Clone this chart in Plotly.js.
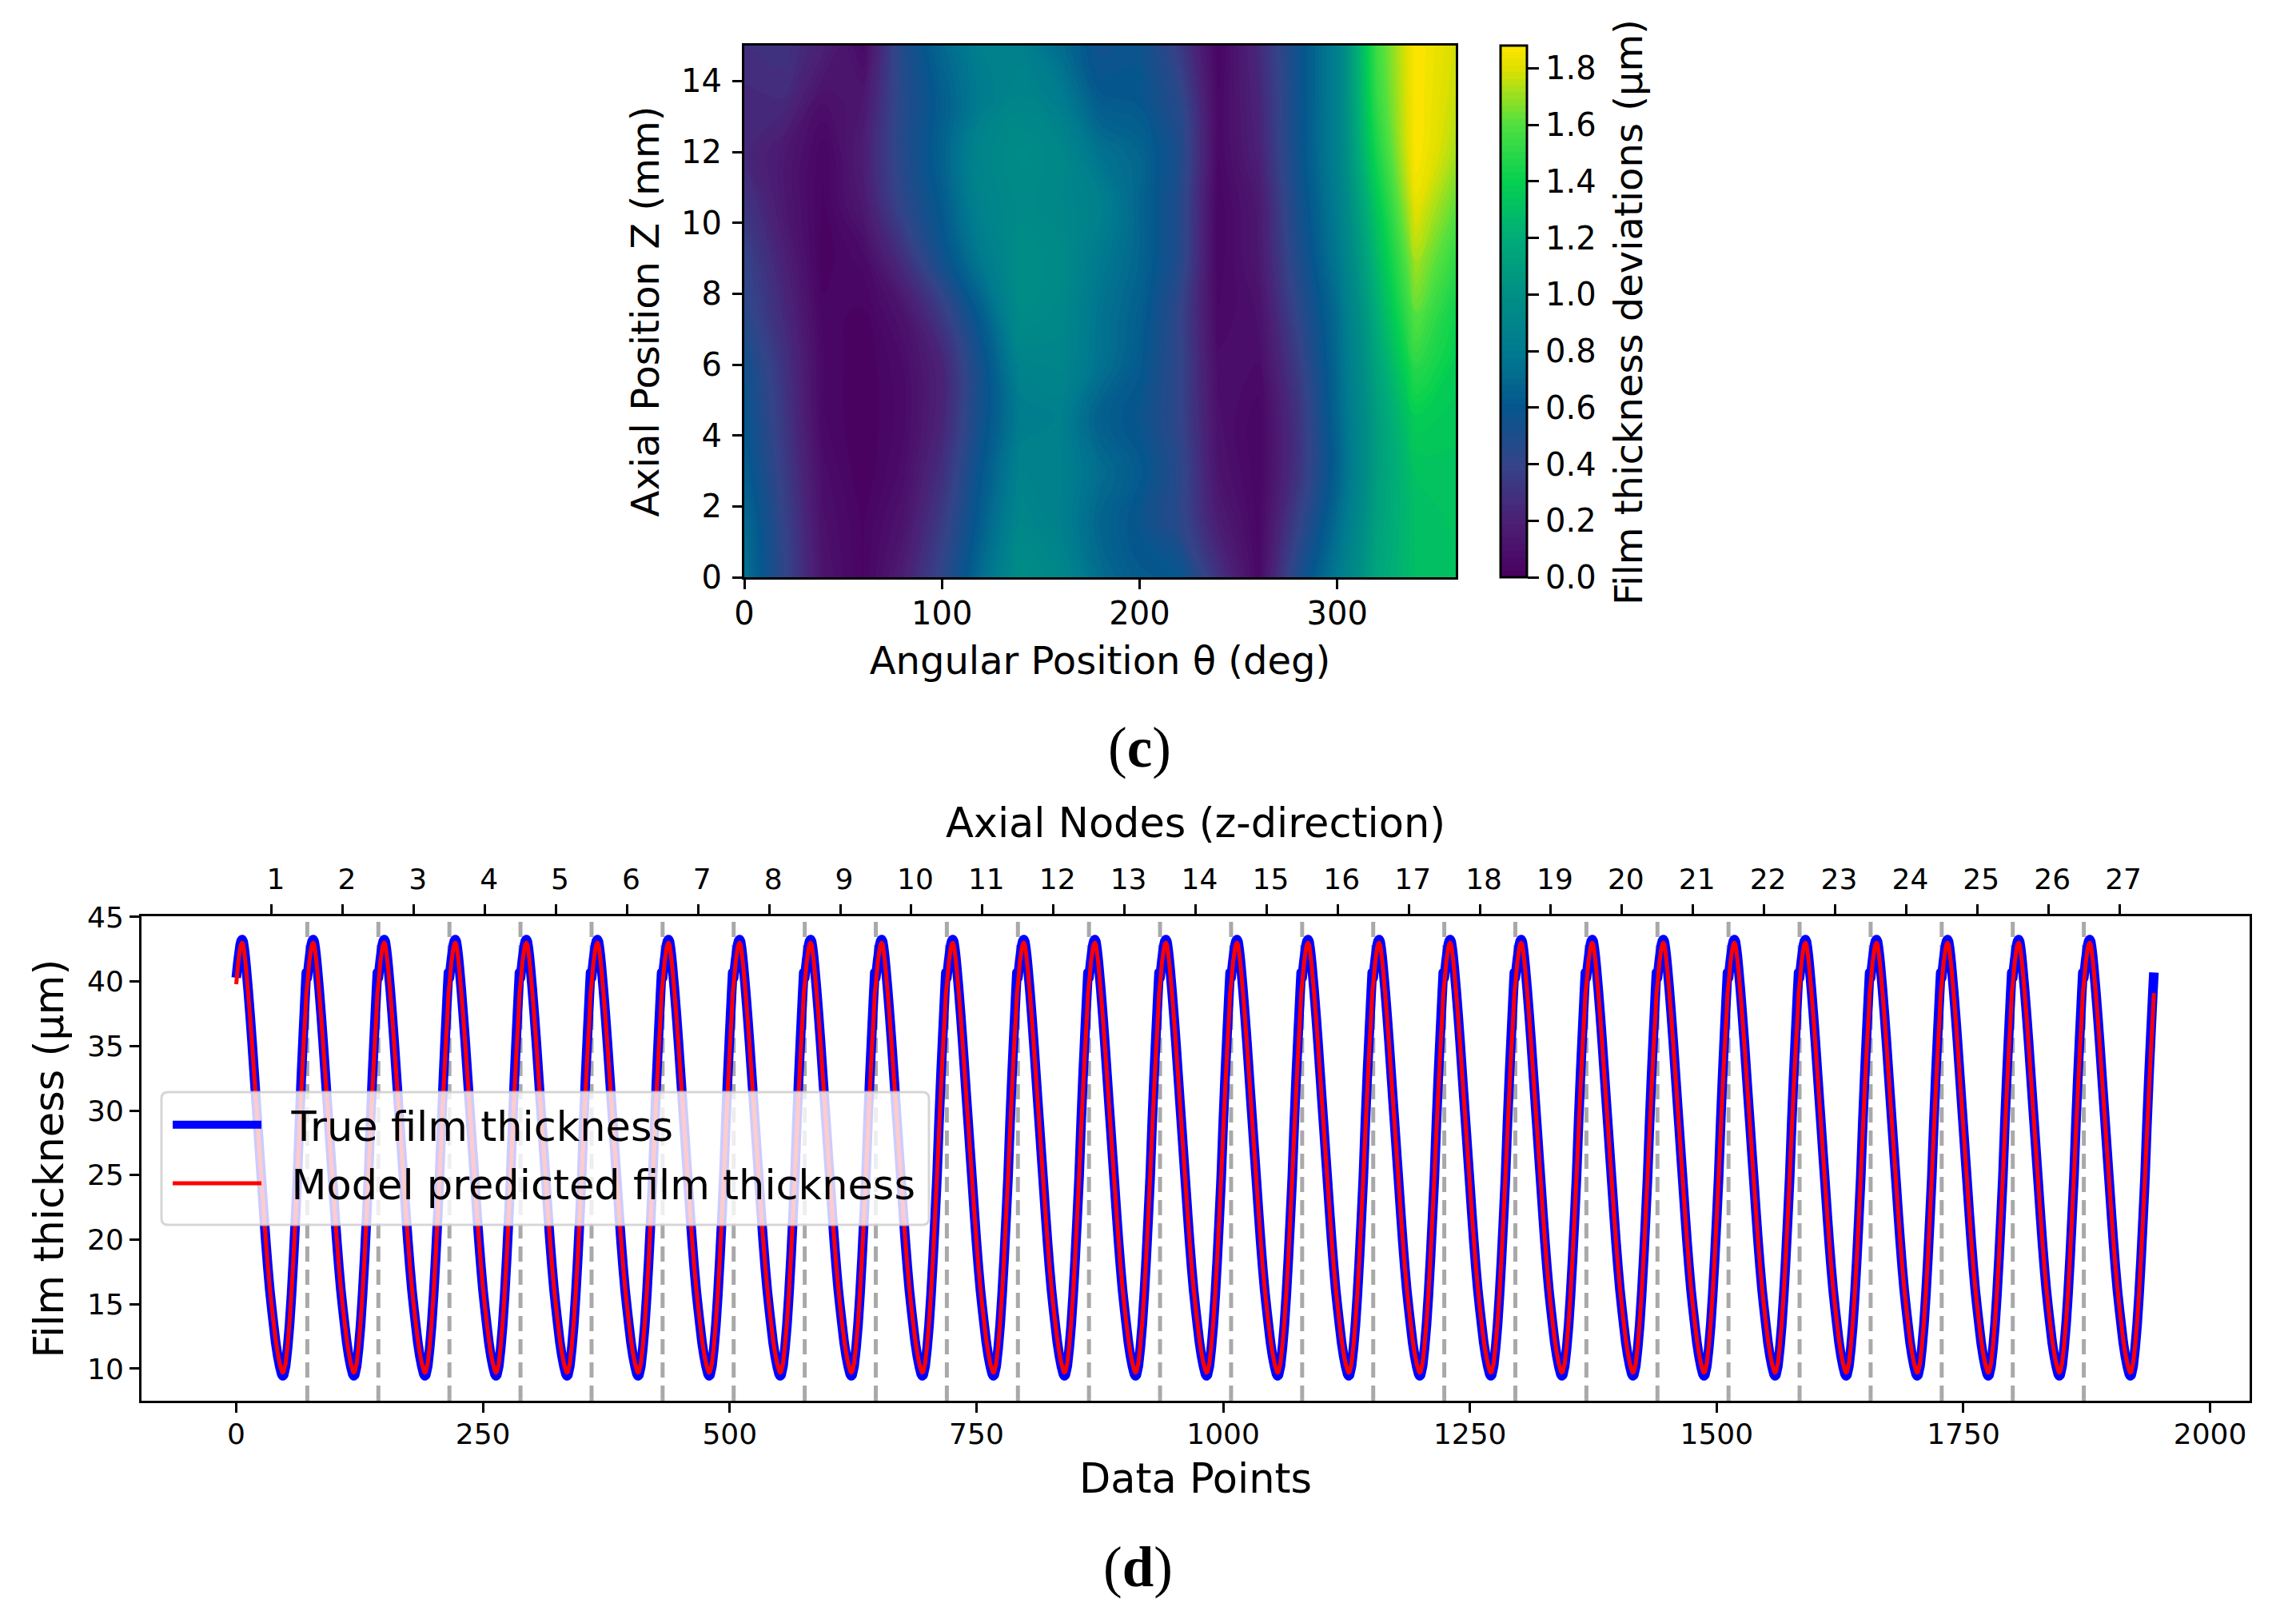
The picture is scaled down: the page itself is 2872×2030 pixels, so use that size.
<!DOCTYPE html>
<html lang="en">

<head>
    <meta charset="UTF-8">
    <title>Film thickness</title>
    <script src="https://cdn.plot.ly/plotly-3.0.1.min.js"></script>
    <style>
        body {
            margin: 0;
            background: white;
        }

        #plot {
            width: 2872px;
            height: 2030px;
        }

        /* plotly's default miter limit flattens the peaks */
        .scatterlayer .js-line {
            stroke-linejoin: round !important;
        }
    </style>
</head>

<body>
    <div id="plot"></div>

    <script>
        // panel (c): film thickness deviations
        const thetaDeg = [0, 20, 40, 60, 80, 100, 120, 140, 160, 180, 200, 220, 240, 260, 280, 300, 320, 340, 360];
        const axialZ = [0, 1.5, 3, 4.5, 6, 7.5, 9, 10.5, 12, 13.5, 15];
        const deviations = [
            [.75, .42, .12, .02, .18, .42, .72, .98, .92, .72, .62, .60, .30, .05, .50, .80, 1.15, 1.30, 1.32],
            [.72, .40, .10, .02, .12, .35, .65, .92, .85, .68, .58, .45, .18, .04, .38, .72, 1.12, 1.30, 1.32],
            [.65, .36, .08, .00, .08, .28, .60, .87, .85, .72, .62, .45, .12, .03, .30, .66, 1.10, 1.32, 1.33],
            [.60, .33, .05, .00, .06, .22, .55, .82, .85, .65, .58, .42, .10, .03, .30, .68, 1.10, 1.38, 1.35],
            [.55, .30, .05, .00, .07, .22, .55, .88, .90, .75, .62, .42, .08, .07, .35, .70, 1.14, 1.50, 1.38],
            [.45, .25, .03, .02, .12, .35, .65, .97, .93, .76, .65, .42, .05, .10, .42, .72, 1.20, 1.62, 1.42],
            [.40, .20, .01, .06, .28, .55, .80, .98, .95, .80, .68, .48, .03, .14, .48, .78, 1.27, 1.72, 1.52],
            [.32, .15, .02, .15, .42, .62, .88, .95, .92, .85, .68, .48, .03, .15, .52, .82, 1.35, 1.82, 1.62],
            [.25, .15, .03, .18, .46, .66, .90, .97, .92, .75, .68, .50, .05, .20, .55, .85, 1.45, 1.88, 1.72],
            [.25, .26, .10, .14, .46, .64, .82, .90, .82, .62, .60, .45, .05, .22, .55, .85, 1.52, 1.88, 1.76],
            [.28, .30, .20, .06, .48, .70, .85, .85, .72, .55, .58, .35, .03, .25, .55, .85, 1.55, 1.88, 1.78]
        ];
        const deviationScale = [
            [0, '#4a0060'], [0.106, '#4b2075'], [0.213, '#334488'], [0.319, '#06568e'],
            [0.426, '#007b8f'], [0.532, '#008f85'], [0.638, '#00ac78'], [0.745, '#05d050'],
            [0.851, '#50e040'], [0.957, '#e0e000'], [1, '#ffe500']
        ];
        const colorbarTicks = [0, 0.2, 0.4, 0.6, 0.8, 1.0, 1.2, 1.4, 1.6, 1.8];

        // panel (d): one node's worth of data points, the trace repeats it node after node
        const cycleOffsets = [0, 2, 4, 5, 6, 7, 8, 9, 10, 12, 14, 16, 18, 20, 22, 24, 26, 28, 30, 32, 34, 36, 38, 40, 42, 44, 46, 47, 48,
            50, 52, 54, 56, 58, 60, 62, 64, 66, 68, 70, 71];
        const trueCycle = [40.3, 41.7, 42.85, 43.15, 43.25, 43.1, 42.6, 41.95, 41.15,
            39.4, 37.45, 35.35, 33.1, 30.85, 28.65, 26.4, 24.2, 21.95, 19.8, 17.85, 16.1, 14.65, 13.3, 12.0, 11.0, 10.2,
            9.6, 9.45, 9.5, 10.2, 11.6, 13.4, 15.75, 18.5, 21.6, 24.85, 29.0, 32.7, 36.0, 39.2, 40.7];
        const predictedCycle = [39.8, 41.5, 42.6, 42.9, 43.0, 42.85, 42.35, 41.7, 40.95,
            39.2, 37.3, 35.2, 33.0, 30.8, 28.6, 26.4, 24.2, 22.0, 19.9, 17.95, 16.25, 14.8, 13.45, 12.2, 11.2, 10.4,
            9.85, 9.7, 9.75, 10.4, 11.8, 13.6, 15.9, 18.6, 21.7, 24.9, 28.3, 31.6, 34.7, 37.5, 39.1];
        const nodeLabels = ['1', '2', '3', '4', '5', '6', '7', '8', '9', '10', '11', '12', '13', '14', '15', '16', '17', '18',
            '19', '20', '21', '22', '23', '24', '25', '26', '27'];
        const nodeCenters = [36, 108, 180, 252, 324, 396, 468, 540, 612, 684, 756, 828, 900, 972, 1044, 1116, 1188, 1260,
            1332, 1404, 1476, 1548, 1620, 1692, 1764, 1836, 1908];
        const nodeEdges = [72, 144, 216, 288, 360, 432, 504, 576, 648, 720, 792, 864, 936, 1008, 1080, 1152, 1224, 1296,
            1368, 1440, 1512, 1584, 1656, 1728, 1800, 1872];
        const thicknessRange = [7.52, 45.06];
        const pointsRange = [-96, 2040];

        const W = 2872, H = 2030;
        const tickFont = {family: 'DejaVu Sans', size: 36, color: 'black'};
        const heatTickFont = {family: 'DejaVu Sans', size: 40, color: 'black'};

        function buildLines() {
            const x = [], trueY = [], predY = [];
            nodeLabels.forEach((_, node) => {
                cycleOffsets.forEach((off, i) => {
                    x.push(off + 72 * node);
                    trueY.push(trueCycle[i]);
                    predY.push(predictedCycle[i]);
                });
            });
            return {x, trueY, predY};
        }

        function createChart() {
            const lines = buildLines();
            const edgeX = [], edgeY = [];
            nodeEdges.forEach(e => {
                edgeX.push(e, e, null);
                edgeY.push(thicknessRange[0], thicknessRange[1], null);
            });

            const traces = [
                // same data under the contour so the seams between fill levels don't show white
                {
                    type: 'heatmap',
                    x: thetaDeg, y: axialZ, z: deviations,
                    xaxis: 'x', yaxis: 'y',
                    colorscale: deviationScale,
                    zmin: 0, zmax: 1.88, zauto: false,
                    zsmooth: 'best', showscale: false, hoverinfo: 'skip'
                },
                {
                    type: 'contour',
                    x: thetaDeg, y: axialZ, z: deviations,
                    xaxis: 'x', yaxis: 'y',
                    colorscale: deviationScale,
                    zmin: 0, zmax: 1.88, zauto: false,
                    autocontour: false,
                    contours: {start: 0, end: 1.88, size: 0.0235, coloring: 'fill', showlines: false},
                    line: {width: 0, smoothing: 1.3},
                    showlegend: false,
                    colorbar: {
                        x: 1877 / W, xanchor: 'left', xpad: 0,
                        y: 1 - 57 / H, yanchor: 'top', ypad: 0,
                        lenmode: 'pixels', len: 665,
                        thicknessmode: 'pixels', thickness: 33,
                        outlinecolor: 'black', outlinewidth: 3,
                        tickmode: 'array', tickvals: colorbarTicks,
                        ticktext: colorbarTicks.map(v => v.toFixed(1)),
                        ticks: 'outside', ticklen: 14, tickwidth: 3, tickcolor: 'black',
                        tickfont: heatTickFont
                    }
                },
                {
                    x: edgeX, y: edgeY,
                    xaxis: 'x3', yaxis: 'y2',
                    mode: 'lines',
                    line: {color: '#a9a9a9', width: 5, dash: '19px,10px'},
                    showlegend: false, hoverinfo: 'skip'
                },
                {
                    x: lines.x, y: lines.trueY,
                    xaxis: 'x2', yaxis: 'y2',
                    mode: 'lines', name: '\u00a0\u00a0True film thickness', legendgroup: 'true',
                    line: {color: '#0000ff', width: 12, simplify: false}
                },
                {
                    x: lines.x, y: lines.predY,
                    xaxis: 'x2', yaxis: 'y2',
                    mode: 'lines', name: '\u00a0\u00a0Model predicted film thickness', legendgroup: 'pred',
                    line: {color: '#ff0000', width: 5, simplify: false}
                }
            ];

            // rounded legend frame, plotly's own legend box has square corners
            const lx0 = 202 / W, lx1 = 1162 / W, ly0 = 1 - 1532 / H, ly1 = 1 - 1366 / H;
            const rx = 8 / W, ry = 8 / H;
            const frame = `M${lx0 + rx},${ly0} L${lx1 - rx},${ly0} Q${lx1},${ly0} ${lx1},${ly0 + ry} ` +
                `L${lx1},${ly1 - ry} Q${lx1},${ly1} ${lx1 - rx},${ly1} L${lx0 + rx},${ly1} ` +
                `Q${lx0},${ly1} ${lx0},${ly1 - ry} L${lx0},${ly0 + ry} Q${lx0},${ly0} ${lx0 + rx},${ly0} Z`;

            const axisLine = {showline: true, linecolor: 'black', linewidth: 3, mirror: true,
                ticks: 'outside', ticklen: 12, tickwidth: 3, tickcolor: 'black', showgrid: false, zeroline: false};

            const layout = {
                width: W, height: H,
                margin: {l: 0, r: 0, t: 0, b: 0},
                paper_bgcolor: 'white', plot_bgcolor: 'white',
                font: {family: 'DejaVu Sans', color: 'black'},
                xaxis: Object.assign({}, axisLine, {
                    domain: [931 / W, 1821 / W], anchor: 'y', range: [0, 360],
                    tickvals: [0, 100, 200, 300], tickfont: heatTickFont, ticklabelstandoff: -4,
                    title: {text: 'Angular Position θ (deg)', standoff: 21, font: {size: 48}}
                }),
                yaxis: Object.assign({}, axisLine, {
                    domain: [1 - 722 / H, 1 - 57 / H], anchor: 'x', range: [0, 15],
                    tickvals: [0, 2, 4, 6, 8, 10, 12, 14], tickfont: heatTickFont, ticklabelstandoff: 5,
                    title: {text: 'Axial Position Z (mm)', standoff: 13, font: {size: 48}}
                }),
                xaxis2: Object.assign({}, axisLine, {
                    domain: [177 / W, 2814 / W], anchor: 'y2', overlaying: 'x3', range: pointsRange,
                    tickvals: [0, 250, 500, 750, 1000, 1250, 1500, 1750, 2000], tickfont: tickFont, ticklabelstandoff: -4,
                    title: {text: 'Data Points', standoff: 19, font: {size: 51}}
                }),
                xaxis3: Object.assign({}, axisLine, {
                    domain: [177 / W, 2814 / W], anchor: 'y2', side: 'top', range: pointsRange,
                    tickmode: 'array', tickvals: nodeCenters, ticktext: nodeLabels, tickfont: tickFont,
                    ticklabelshift: 5, ticklabelstandoff: 5,
                    title: {text: 'Axial Nodes (z-direction)', standoff: 15, font: {size: 51}}
                }),
                yaxis2: Object.assign({}, axisLine, {
                    domain: [1 - 1752 / H, 1 - 1146 / H], anchor: 'x2', range: thicknessRange,
                    tickvals: [10, 15, 20, 25, 30, 35, 40, 45], tickfont: tickFont,
                    title: {text: 'Film thickness (µm)', standoff: 14, font: {size: 51}}
                }),
                showlegend: true,
                legend: {
                    x: 211 / W, xanchor: 'left', y: 1 - 1367 / H, yanchor: 'top',
                    bgcolor: 'rgba(0,0,0,0)', borderwidth: 0,
                    font: {family: 'DejaVu Sans', size: 51, color: 'black'},
                    itemwidth: 111, traceorder: 'grouped', tracegroupgap: 4
                },
                shapes: [{
                    type: 'path', xref: 'paper', yref: 'paper', layer: 'above', path: frame,
                    fillcolor: 'rgba(255,255,255,0.8)',
                    line: {color: 'rgba(204,204,204,0.8)', width: 3}
                }],
                annotations: [
                    {text: 'Film thickness deviations (µm)', xref: 'paper', yref: 'paper', x: 2037 / W, y: 1 - 390 / H,
                        textangle: -90, showarrow: false, xanchor: 'center', yanchor: 'middle',
                        font: {family: 'DejaVu Sans', size: 48, color: 'black'}},
                    {text: '(<b>c</b>)', xref: 'paper', yref: 'paper', x: 1425 / W, y: 1 - 935 / H, showarrow: false,
                        xanchor: 'center', yanchor: 'middle', font: {family: 'Liberation Serif', size: 71, color: 'black'}},
                    {text: '(<b>d</b>)', xref: 'paper', yref: 'paper', x: 1423 / W, y: 1 - 1960 / H, showarrow: false,
                        xanchor: 'center', yanchor: 'middle', font: {family: 'Liberation Serif', size: 71, color: 'black'}}
                ]
            };

            Plotly.newPlot('plot', traces, layout, {displayModeBar: false});
        }

        createChart();
    </script>
</body>

</html>
